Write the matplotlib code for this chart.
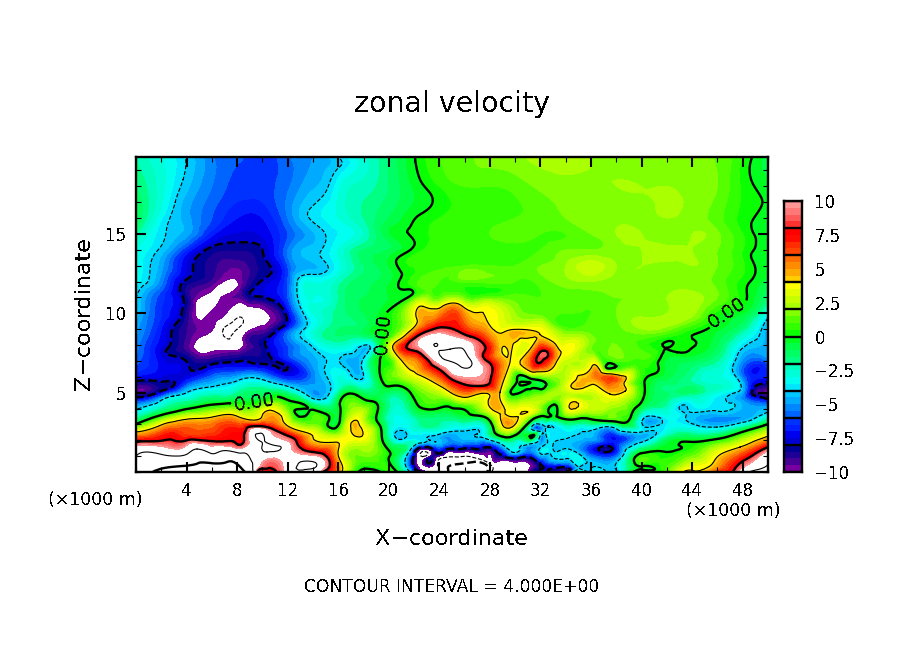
import matplotlib
matplotlib.use('Agg')
import matplotlib.pyplot as plt
import matplotlib.tri as mtri
import numpy as np
from matplotlib.colors import ListedColormap, BoundaryNorm

plt.rcParams['text.antialiased'] = False

# x in km, z in km (rows below go from the top of the plot down)
x_km = np.arange(0, 51, 2)
z_km = [20, 18, 16, 15, 14, 13, 12, 11, 10, 9, 8, 7, 6, 5.5, 5, 4.5, 4, 3.5, 3, 2.5, 2, 1.5, 1, 0.5, 0]

# zonal velocity
u_grid = [
    [-2, -3, -4.2, -5.5, -5.8, -6.5, -5.5, -5, -3.9, -2.5, -1.5, -0.05, 1, 1.3, 1.8, 1.9, 2.3, 2.4, 2, 1.8, 1.6, 1.8, 1.8, 1.4, 0.6, -0.8],
    [-1.5, -2.8, -4.3, -5.5, -6.2, -6.2, -5.6, -4.6, -3.2, -2.3, -1.5, -0.4, 0.5, 1, 1, 1.2, 1.6, 1.8, 1.9, 2, 2, 2, 1.9, 1.5, 0.4, -0.3],
    [-1, -3.4, -4.8, -6, -7, -7, -5.5, -4.1, -3, -2, -1, -0.1, 0.5, 0.8, 0.8, 1, 1.2, 1.5, 1.8, 1.9, 1.8, 2, 1.8, 1.2, 0.3, -0.3],
    [-2, -3.8, -4.8, -6.8, -7.6, -7.4, -6, -4.6, -3.5, -2.5, -0.6, 0.3, 0.7, 0.8, 1, 1.2, 1, 1, 1.5, 2, 2, 1.5, 2, 1.6, 0.5, -0.5],
    [-3, -4.2, -6.5, -8.4, -9, -7.9, -5.5, -4.5, -3, -1.5, -1, 0.3, 0.8, 0.8, 0.7, 0.8, 1, 1.5, 1.5, 1.8, 2, 2.2, 2, 1.5, 0.5, -0.3],
    [-3, -4.8, -7.7, -8.8, -9.4, -8.3, -6, -4.3, -3.2, -1.5, -0.5, 0.6, 0.9, 1, 1, 1, 1.5, 2, 2.8, 2, 2, 1.8, 2, 1.5, 0.6, -0.5],
    [-3.3, -5.3, -8.2, -9.2, -10.2, -7.9, -6, -3.5, -2.3, -1.2, -0.6, 0.8, 1, 1.2, 1.2, 1, 1.2, 1.8, 2, 1.8, 1.8, 1.6, 1.8, 1.3, 0.3, -0.7],
    [-3.7, -6.3, -8.5, -10.2, -9.5, -8.1, -6, -3, -2, -1, -0.5, 0.9, 1.2, 1.3, 1.3, 1.2, 1, 1.2, 1.3, 1.5, 1.6, 2, 2.3, 1.5, 0.1, -1.5],
    [-4.2, -6.5, -8.7, -9.8, -10.6, -10.3, -7.3, -3, -1.8, -1, -0.1, 3.3, 5.2, 5, 3.5, 2, 1.3, 1, 1, 1.5, 1.8, 2, 2.2, 0.3, -0.5, -3.3],
    [-4.8, -7, -9, -10.2, -11.5, -9.7, -6.5, -3, -1.5, -1, 0.1, 4.5, 7.8, 7.8, 4.8, 3.8, 3, 1.2, 1.2, 1.3, 2, 1.7, 0.6, -0.4, -1.8, -4.2],
    [-5.2, -7.5, -9.3, -10.7, -9.8, -8.3, -6, -3.9, -2.5, -1, 0.5, 8.5, 12, 11.2, 6.8, 3.9, 6.3, 3.5, 1.6, 1.5, 0.8, -0.5, -0.8, -1, -3.7, -4.7],
    [-5.8, -7.3, -8.1, -8.6, -8.1, -8.3, -7, -4.8, -3.2, -3.5, 0.5, 5, 10.8, 12.8, 7.4, 4.5, 7.3, 2.8, 1.7, 1.5, 0.8, -0.6, -1, -2, -4.5, -5.5],
    [-6.8, -7.5, -6.7, -5.7, -4.8, -4.4, -6.3, -5.3, -3, -3.5, 0.5, 3.2, 6.5, 10, 7.9, 2, 0.8, 2.5, 4.6, 5.5, 0.6, -0.8, -2, -3, -5.5, -7],
    [-8.5, -8.3, -6, -4.4, -3.3, -2.8, -4.2, -5, -3, -3, 0.1, 1.5, 4.2, 7.5, 6, 1.5, -0.5, 3, 4, 5.2, 0.3, -1.5, -1.8, -2.5, -4.5, -9],
    [-10.8, -7.5, -4, -2.7, -2, -1.3, -2, -4.5, -2, -0.1, -1.3, 0.2, 2.5, 4.6, 4.5, 1, 0.5, 2.5, 3, 3.6, 0.2, -1.5, -1.5, -3, -4.2, -10.5],
    [-6, -3.9, -2.2, -1, -0.6, 0.05, 0.1, -2.6, -0.3, 0.3, -2, -0.3, 1.2, 2.8, 4.3, 2.5, 2.5, 3, 2.5, 3, -0.1, -1.8, -3, -3.7, -5, -7.5],
    [-3.9, -2.1, -0.2, 1, 1.5, 2.1, 1.3, -0.3, 0.3, 2, -2, -1, -0.1, 0.2, 3.8, 3, 2, 3, 2.8, 1.8, -1.2, -2.5, -3.7, -3.7, -5, -6],
    [-2, 0.05, 2.8, 3.7, 4, 4, 2.5, 1, -0.2, 2.5, -2.5, -2, -1.5, -0.7, 1, 4.3, 0.3, 0.3, 1.6, 1.5, -1.2, -3.2, -4.5, -5, -5, -3],
    [0.2, 3.9, 4.7, 5.5, 6, 7.8, 3.9, 1.5, -0.3, 3, -2.3, -2.5, -2, -1.5, -0.3, 3, -0.4, -0.8, -1.3, -3, -4.05, -3.5, -4, -4.3, -2.4, 0],
    [4, 6, 6.3, 7, 7.5, 10.2, 6.5, 2.8, 1.5, 2.5, -2.5, -3.2, -3.5, -4.1, -1.5, -0.1, -4.2, -2.5, -4.2, -4.2, -4.1, -3, -2.5, -1.4, 0.2, 2.6],
    [7.7, 7.9, 7.95, 7.95, 7.8, 11, 9.5, 5.2, 3.7, 2.2, -0.8, -3.2, -4.3, -4.6, -4.1, -2.6, -2.5, -3.2, -5, -7, -4.2, -1, -0.3, 0.1, 2.2, 5.5],
    [10.2, 10.2, 10.3, 10.2, 10.1, 11.5, 10.6, 7.5, 3.8, 2.2, -0.3, -3.5, -7.6, -7.9, -7.5, -3.9, -3.9, -3.8, -6.8, -7, -1.8, -0.3, 0.5, 1.8, 4.2, 8.3],
    [11.5, 12.5, 12.6, 12.7, 12.5, 11, 10.6, 9.8, 4.3, 1.5, 0.1, -4.1, -10.3, -11.9, -10.8, -7.9, -5.5, -4.5, -5.5, -4.4, 0.3, 0.4, 1.5, 3.9, 6, 11],
    [12.5, 14, 15.9, 16.5, 15.6, 9.5, 10.3, 10, 4.5, 0.7, 0.2, -4.6, -12.3, -16.2, -11.9, -10.4, -7, -6, -4.2, -4.1, 0.5, 0.8, 3, 5.5, 8.3, 12],
    [13, 16.1, 17, 18, 16.5, 8.6, 10.2, 10.2, 4.6, -0.5, 0.5, -6, -12.5, -19, -13, -11, -8.5, -6.5, -4.2, -4.2, 0.6, 1.2, 4.1, 6.5, 11, 13],
]

# places along the contours, as (x, z) in km
contour_0 = [
    (22.07, 19.87), (22.47, 18.43), (23.42, 17.36), (22.47, 16.23), (21.52, 15.28), (21.76, 14.03), (20.57, 13.27),
    (20.89, 12.14), (21.52, 11.51), (20.09, 10.25), (19.7, 9.5), (19.62, 8.68), (19.5, 7.9), (19.30, 7.11), (19.62, 5.53), (21.68, 5.03),
    (22.23, 4.28), (24.84, 4.09), (28.01, 3.21), (29.83, 2.26), (31.41, 3.33), (32.75, 3.65), (33.31, 4.09),
    (33.94, 3.33), (36.4, 3.27), (38.84, 3.14), (40.11, 4.59), (40.9, 6.16), (41.69, 7.92), (42.41, 8.24),
    (42.80, 7.55), (44.0, 8.4), (45.41, 9.12), (48.34, 11.07), (48.73, 13.40), (49.53, 17.17), (48.73, 19.81),
    (0.08, 3.02), (2.93, 3.77), (7.44, 4.34), (11.39, 4.72), (13.21, 4.28), (15.19, 3.14), (16.14, 3.33),
    (16.14, 4.15), (17.48, 4.84), (18.91, 4.40), (19.22, 3.02), (19.54, 1.89), (20.65, 0.06),
    (39.32, 0.06), (39.48, 0.94), (41.22, 1.32), (45.97, 2.08), (49.92, 3.02),
    (30.14, 5.85), (30.78, 6.04), (31.41, 5.85), (32.36, 5.66), (32.36, 5.35), (31.96, 5.22), (31.17, 5.6), (30.38, 5.66),
    (37.18, 6.6), (37.5, 6.86), (37.82, 6.79), (37.66, 6.54),
]
contour_p4 = [
    (0.08, 2.52), (1.98, 2.96), (4.03, 3.33), (6.01, 3.46), (7.99, 3.52), (9.97, 3.52), (12.03, 2.89), (14.0, 2.2),
    (15.98, 1.26), (16.30, 0.06),
    (22.23, 9.62), (22.71, 10.44), (24.84, 10.63), (27.45, 10.06), (28.56, 8.81), (29.83, 8.05), (31.17, 7.74),
    (29.98, 8.99), (31.96, 8.68), (33.31, 7.92), (33.39, 7.11), (32.75, 6.42), (31.17, 6.35), (29.59, 6.92),
    (29.43, 7.61), (28.96, 7.55), (28.80, 5.03), (29.19, 3.77), (30.38, 3.65), (29.75, 2.83), (28.56, 3.77),
    (24.84, 5.03), (21.12, 6.92), (20.33, 7.74),
    (34.97, 5.22), (36.08, 6.67), (36.55, 6.60), (38.69, 5.72), (38.69, 5.09), (37.5, 4.91), (36.16, 5.53),
    (43.27, 0.06), (45.41, 0.38), (45.97, 0.94), (47.78, 1.57), (49.92, 2.26),
    (17.17, 3.21), (17.88, 2.26), (17.33, 2.26),
]
contour_p8 = [
    (0.08, 1.89), (2.93, 2.01), (5.85, 1.95), (7.99, 1.76), (8.62, 2.52), (9.57, 2.89), (10.84, 2.70), (14.0, 1.26), (14.79, 0.06),
    (21.52, 7.74), (22.23, 8.55), (23.26, 8.93), (25.63, 8.81), (26.42, 8.55), (27.45, 7.30), (28.01, 5.66), (26.19, 5.47), (24.29, 6.29),
    (47.23, 0.06), (48.02, 0.69), (49.92, 1.57),
    (31.96, 7.55), (32.52, 7.23), (32.2, 7.04),
]
contour_p10 = [
    (0.08, 1.57), (8.46, 1.45), (9.02, 2.52), (9.97, 2.70), (14.32, 0.94),
    (9.4, 0.06), (10.6, 0.94), (11.8, 0.06),
    (48.58, 0.44), (49.92, 1.26),
    (22.47, 7.92), (23.66, 8.68), (24.84, 8.55), (26.66, 7.92), (27.45, 6.48), (26.19, 6.04), (25.24, 6.16),
]
contour_p12 = [
    (0.08, 0.63), (0.16, 0.94), (0.87, 1.26), (4.83, 1.45), (7.44, 1.32), (8.78, 1.13), (9.18, 0.63), (9.26, 0.06),
    (9.81, 1.95), (10.6, 1.76), (11.16, 1.32), (10.36, 1.26), (9.97, 1.64),
    (23.81, 7.92), (24.84, 7.74), (26.42, 7.11), (26.58, 6.79), (25.63, 6.67), (24.84, 6.98),
]
contour_p16 = [(1.9, 0.19), (3.72, 0.38), (7.2, 0.63), (7.99, 0.5), (8.62, 0.06)]
contour_m4 = [
    (0.16, 10.69), (1.11, 12.77), (2.45, 15.47), (3.1, 17.0), (3.72, 18.43), (3.88, 19.87),
    (15.98, 19.87), (16.14, 19.25), (15.11, 17.80), (13.61, 16.42), (14.72, 15.28), (14.56, 13.84), (14.00, 12.45),
    (12.74, 11.95), (12.97, 10.44), (13.92, 7.92), (14.95, 6.67), (15.11, 4.72), (13.77, 4.72), (11.95, 5.41),
    (9.57, 5.91), (6.88, 5.53), (2.93, 4.78), (0.08, 3.96),
    (16.38, 6.67), (17.48, 7.74), (18.51, 7.74), (17.88, 6.48), (16.93, 6.23),
    (21.68, 0.06), (21.75, 1.45), (23.3, 2.0), (25.67, 2.58), (27.0, 2.4), (28.9, 1.76), (30.38, 1.45), (32.99, 1.45),
    (33.2, 0.82), (34.24, 1.45), (34.4, 2.2), (35.2, 2.52), (38.05, 2.70), (40.03, 3.21), (40.27, 1.95), (38.29, 0.82), (38.13, 0.06),
    (49.76, 9.43), (47.55, 7.30), (47.23, 6.29), (47.55, 5.03), (45.97, 3.84), (44.9, 3.8), (43.83, 3.77), (43.04, 4.15), (43.5, 3.5), (44.07, 3.02),
    (45.97, 2.83), (49.92, 3.77),
    (31.8, 2.58), (32.2, 2.96), (32.6, 2.83), (32.44, 2.33), (31.96, 2.26),
    (34.57, 0.06), (34.8, 0.44), (35.5, 0.5), (35.9, 0.06),
]
contour_m8 = [
    (2.45, 7.74), (2.85, 8.99), (3.48, 11.51), (4.51, 12.96), (5.85, 14.15), (7.99, 14.47), (10.05, 13.84), (10.76, 12.77),
    (9.26, 11.51), (9.18, 11.13), (10.6, 10.88), (11.95, 9.62), (10.6, 8.55), (10.44, 7.55), (11.39, 6.48), (8.78, 6.98),
    (4.27, 6.48), (4.03, 6.92), (2.45, 7.42),
    (0.08, 5.72), (2.93, 5.72), (2.93, 5.41), (0.87, 4.78), (0.08, 4.72),
    (48.73, 5.09), (49.37, 5.53), (49.92, 5.66), (49.92, 4.59), (49.37, 4.72),
    (22.63, 0.06), (23.18, 0.82), (23.73, 1.26), (25.32, 1.45), (28.48, 1.32), (30.62, 0.94), (31.96, 0.5), (32.75, 0.19), (34.34, 0.19),
]
contour_m10 = [
    (4.91, 9.62), (5.85, 11.32), (7.67, 12.2), (8.07, 11.95), (6.65, 10.88), (5.46, 9.75),
    (4.91, 7.55), (5.22, 8.55), (7.2, 10.06), (9.57, 10.38), (10.6, 9.62), (8.47, 8.24), (6.09, 7.61),
    (22.47, 0.19), (23.1, 0.94), (24.68, 1.26), (27.85, 1.13), (30.22, 0.63), (31.01, 0.06),
]
contour_m12 = [
    (6.9, 9.0), (7.7, 9.5), (8.5, 9.6), (8.0, 9.0),
    (23.89, 0.06), (23.89, 0.31), (23.89, 0.69), (24.68, 0.94), (26.58, 0.94), (27.61, 0.69), (28.16, 0.38), (28.16, 0.06),
]
contour_m16 = [(24.68, 0.06), (24.68, 0.31), (25.47, 0.5), (27.61, 0.5), (27.85, 0.06)]

# local highs and lows between the contours (x, z, u)
peaks = [
    (30.93, 5.79, -0.5), (37.5, 6.67, -0.5), (13.2, 3.65, -0.5), (32.2, 7.3, 8.6), (37.26, 5.85, 6.5),
    (17.3, 7.1, -4.8), (17.4, 2.7, 4.5), (31.8, 2.6, -4.5), (10.5, 1.6, 13), (25.2, 7.3, 13),
    (7.7, 9.2, -12.5), (6.9, 11.5, -10.5), (35.2, 0.05, -3), (10.6, 0, 7), (29.9, 5.0, -0.3),
    (26.5, 0, -19), (25.5, 0.2, -17.5), (29.5, 0.1, -11.5), (29, 0.6, -10.8), (23, 0.2, -11), (33.5, 0, -8.6),
    (36.5, 5.9, 5.5), (35.5, 5.7, 4.6), (18.7, 9.5, -0.8), (18.6, 8.6, -1), (20.4, 8.7, 1), (20.2, 6.4, 1.2),
    (21, 1.8, -2.5), (20.8, 1, -1.5), (46, 3.35, -5.2), (44.5, 3.4, -4.7), (48, 3.5, -5),
    (6.5, 9, -11), (9, 9.6, -11), (5.7, 10.4, -10.6),
    (23.5, 11.6, 1), (35, 4.6, 2.8), (33, 4.7, 2),
]

contours = [
    (0, contour_0), (4, contour_p4), (8, contour_p8), (10, contour_p10), (12, contour_p12), (16, contour_p16),
    (-4, contour_m4), (-8, contour_m8), (-10, contour_m10), (-12, contour_m12), (-16, contour_m16),
]

fill_levels = np.arange(-10, 10.5, 0.5)
line_levels = [-16, -12, -8, -4, 4, 8, 12, 16]
line_widths = [1.7, 0.8, 1.7, 0.8, 0.8, 1.7, 0.8, 1.7]
line_styles = ['--', '--', '--', '--', '-', '-', '-', '-']
bar_ticks = [-10, -7.5, -5, -2.5, 0, 2.5, 5, 7.5, 10]
bar_labels = ['\u221210', '\u22127.5', '\u22125', '\u22122.5', '0', '2.5', '5', '7.5', '10']

# colours from the colour bar, bottom to top
band_colors = [
    (120, 0, 160), (70, 0, 150), (30, 0, 150), (0, 0, 150),
    (0, 0, 210), (0, 0, 240), (0, 30, 255), (0, 50, 255),
    (0, 100, 255), (0, 135, 255), (0, 170, 255), (0, 200, 255),
    (0, 230, 255), (0, 255, 240), (0, 255, 215), (0, 255, 190),
    (0, 255, 130), (0, 255, 100), (0, 255, 70), (0, 255, 30),
    (10, 255, 0), (50, 255, 0), (85, 255, 0), (130, 255, 0),
    (170, 255, 0), (200, 255, 0), (225, 255, 0), (255, 255, 0),
    (255, 205, 0), (255, 170, 0), (255, 140, 0), (255, 110, 0),
    (255, 70, 0), (255, 45, 0), (255, 10, 0), (255, 0, 0),
    (255, 50, 50), (255, 90, 90), (255, 120, 120), (255, 150, 150),
]

cmap = ListedColormap(np.array(band_colors) / 255)
cmap.set_over('white')
cmap.set_under('white')
norm = BoundaryNorm(fill_levels, cmap.N)

# contour and peak samples first
xs, zs, us = [], [], []
for level, pts in contours:
    for px, pz in pts:
        # samples right at the frame go on the frame
        if px < 0.2:
            px = 0.0
        if px > 49.8:
            px = 50.0
        if pz < 0.1:
            pz = 0.0
        xs.append(px)
        zs.append(pz)
        us.append(level)
for px, pz, pu in peaks:
    xs.append(px)
    zs.append(pz)
    us.append(pu)

# grid values only where no contour sample sits right next to them
near = 0.6
sx, sz = np.array(xs), np.array(zs)
for i, zv in enumerate(z_km):
    for j, xv in enumerate(x_km):
        if np.min(np.hypot(sx - xv, sz - zv)) > near:
            xs.append(float(xv))
            zs.append(zv)
            us.append(u_grid[i][j])

tri = mtri.Triangulation(xs, zs)
interp = mtri.CubicTriInterpolator(tri, np.array(us), kind='min_E')
refiner = mtri.UniformTriRefiner(tri)
fine_tri, fine_u = refiner.refine_field(np.array(us), triinterpolator=interp, subdiv=3)

W, H = 904, 654
fig = plt.figure(figsize=(W / 100, H / 100), dpi=100)
ax = fig.add_axes([136 / W, 1 - 472 / H, 632 / W, 315 / H])

ax.tricontourf(fine_tri, fine_u, levels=fill_levels, cmap=cmap, norm=norm, extend='both', antialiased=False)
ax.tricontour(fine_tri, fine_u, levels=line_levels, colors='k', linewidths=line_widths, linestyles=line_styles)
cs0 = ax.tricontour(fine_tri, fine_u, levels=[0], colors='k', linewidths=1.7, linestyles='-')
ax.clabel(cs0, fmt='%.2f', fontsize=13.5, inline=True, inline_spacing=3,
          manual=[(9.3, 4.6), (19.5, 8.7), (46.8, 10)])

ax.set_xlim(0, 50)
ax.set_ylim(0, 19.85)
ax.set_xticks(np.arange(4, 49, 4))
ax.set_xticks(np.arange(0, 51, 2), minor=True)
ax.set_yticks([5, 10, 15])
ax.set_yticks(np.arange(0, 20, 1), minor=True)
ax.tick_params(which='major', direction='in', top=True, right=True, length=7, width=1.5, labelsize=12, pad=7)
ax.tick_params(which='minor', direction='in', top=True, right=True, length=3.5, width=0.8)
for sp in ax.spines.values():
    sp.set_linewidth(1.7)
ax.set_axisbelow(False)

# colour bar
cax = fig.add_axes([784 / W, 1 - 472 / H, 18 / W, 271 / H])
mids = (fill_levels[:-1] + fill_levels[1:]) / 2
cax.pcolormesh([0, 1], fill_levels, mids.reshape(-1, 1), cmap=cmap, norm=norm)
cax.hlines(np.arange(-10, 11, 2), 0, 1, colors='k', linewidth=1.7)
cax.set_xlim(0, 1)
cax.set_ylim(-10, 10)
cax.set_xticks([])
cax.yaxis.tick_right()
cax.set_yticks(bar_ticks)
cax.set_yticklabels(bar_labels)
cax.tick_params(length=0, labelsize=12, pad=9)
for sp in cax.spines.values():
    sp.set_linewidth(1.7)


def px_text(x, y, s, **kw):
    fig.text(x / W, 1 - y / H, s, ha='center', va='center', **kw)


px_text(452, 104, 'zonal velocity', fontsize=20.5)
px_text(452, 539, 'X\u2212coordinate', fontsize=16)
px_text(84, 314, 'Z\u2212coordinate', fontsize=16, rotation=90)
px_text(95, 500, '(\u00d71000 m)', fontsize=12.5)
px_text(733, 511, '(\u00d71000 m)', fontsize=12.5)
px_text(452, 587, 'CONTOUR INTERVAL = 4.000E+00', fontsize=12.3)

fig.savefig('out.png', dpi=100)
